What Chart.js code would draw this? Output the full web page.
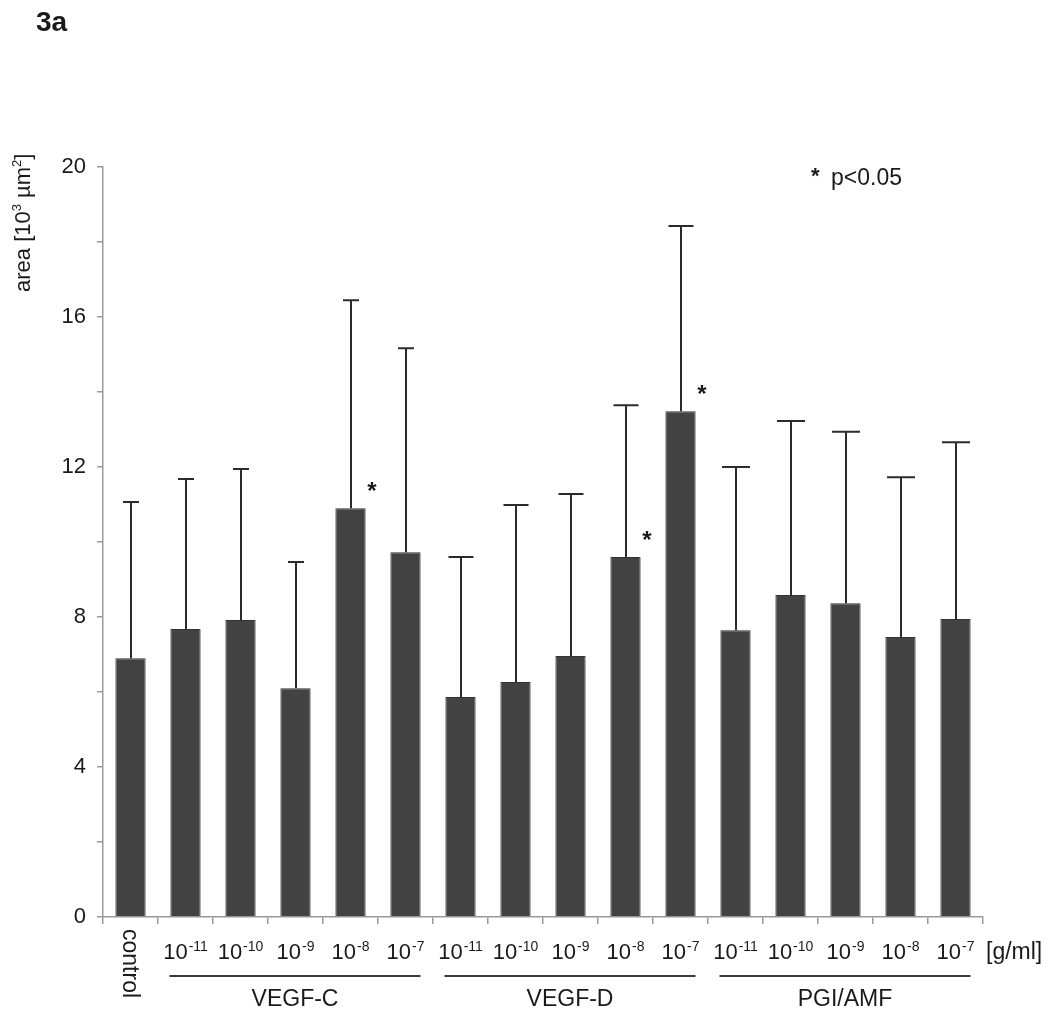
<!DOCTYPE html>
<html>
<head>
<meta charset="utf-8">
<script src="https://cdn.jsdelivr.net/npm/chart.js@4.4.1/dist/chart.umd.min.js"></script>
<style>
  html, body { margin: 0; padding: 0; background: #fff; }
  #wrap { width: 1050px; height: 1011px; }
</style>
</head>
<body>
<div id="wrap"><canvas id="areaChart" width="1050" height="1011"></canvas></div>
<script>
// Chart data
const groups = ['VEGF-C', 'VEGF-D', 'PGI/AMF'];
const categories = ['control',
  '10^-11', '10^-10', '10^-9', '10^-8', '10^-7',
  '10^-11', '10^-10', '10^-9', '10^-8', '10^-7',
  '10^-11', '10^-10', '10^-9', '10^-8', '10^-7'];
const means = [6.9, 7.68, 7.92, 6.1, 10.9, 9.73, 5.87, 6.27, 6.96, 9.6, 13.49, 7.65, 8.59, 8.37, 7.47, 7.95];
const sd = [4.17, 4.0, 4.03, 3.37, 5.55, 5.44, 3.73, 4.72, 4.32, 4.05, 4.94, 4.35, 4.64, 4.57, 4.26, 4.71];
const significant = [false, false, false, false, true, false, false, false, false, true, true, false, false, false, false, false];
const yTicks = [0, 4, 8, 12, 16, 20];

const FONT = "'Liberation Sans', Arial, Helvetica, sans-serif";
const INK = '#1a1a1a';

// cap width per bar (control + VEGF-C narrow, VEGF-D / PGI wider)
function capWidth(i) {
  if (i <= 5) return 16;
  if (i <= 10) return 25;
  return 28;
}

// Error bars, asterisks and the custom axis texts
const annotations = {
  id: 'annotations',
  afterDatasetsDraw(chart) {
    const ctx = chart.ctx;
    const meta = chart.getDatasetMeta(0);
    const y = chart.scales.y;
    ctx.save();
    ctx.strokeStyle = '#2b2b2b';
    ctx.lineWidth = 2;
    meta.data.forEach((bar, i) => {
      const x = Math.round(bar.x);
      const yTop = y.getPixelForValue(means[i] + sd[i]);
      const yMean = y.getPixelForValue(means[i]);
      ctx.beginPath();
      ctx.moveTo(x, yMean);
      ctx.lineTo(x, yTop);
      ctx.moveTo(x - capWidth(i) / 2, yTop);
      ctx.lineTo(x + capWidth(i) / 2, yTop);
      ctx.stroke();
      if (significant[i]) {
        ctx.fillStyle = INK;
        ctx.font = 'bold 24px ' + FONT;
        ctx.textAlign = 'center';
        ctx.textBaseline = 'middle';
        ctx.fillText('*', x + 21, yMean - 16);
      }
    });
    ctx.restore();
  },
  afterDraw(chart) {
    const ctx = chart.ctx;
    const xs = chart.scales.x;
    ctx.save();
    ctx.fillStyle = INK;

    // x tick labels
    categories.forEach((lab, i) => {
      const cx = xs.getPixelForValue(i);
      if (lab === 'control') {
        ctx.save();
        ctx.translate(cx - 1, 929);
        ctx.rotate(Math.PI / 2);
        ctx.font = '23px ' + FONT;
        ctx.textAlign = 'left';
        ctx.textBaseline = 'middle';
        ctx.fillText('control', 0, 0);
        ctx.restore();
        return;
      }
      const exp = lab.split('^')[1];
      ctx.font = '22px ' + FONT;
      const wBase = ctx.measureText('10').width;
      ctx.font = '14px ' + FONT;
      const wExp = ctx.measureText(exp).width;
      const left = cx - (wBase + wExp + 1) / 2;
      ctx.textAlign = 'left';
      ctx.textBaseline = 'alphabetic';
      ctx.font = '22px ' + FONT;
      ctx.fillText('10', left, 959);
      ctx.font = '14px ' + FONT;
      ctx.fillText(exp, left + wBase + 1, 951);
    });

    // unit
    ctx.font = '23px ' + FONT;
    ctx.textAlign = 'left';
    ctx.fillText('[g/ml]', 986, 959);

    // group underlines and names
    groups.forEach((g, k) => {
      const first = 1 + k * 5, last = first + 4;
      const x1 = xs.getPixelForValue(first) - 16;
      const x2 = xs.getPixelForValue(last) + 15;
      ctx.strokeStyle = '#3a3a3a';
      ctx.lineWidth = 2;
      ctx.beginPath();
      ctx.moveTo(x1, 976);
      ctx.lineTo(x2, 976);
      ctx.stroke();
      ctx.font = '23px ' + FONT;
      ctx.textAlign = 'center';
      ctx.fillText(g, (x1 + x2) / 2, 1006);
    });

    // y axis title with superscripts, rotated
    ctx.save();
    ctx.translate(30, 292);
    ctx.rotate(-Math.PI / 2);
    ctx.textAlign = 'left';
    ctx.textBaseline = 'alphabetic';
    const parts = [['area [10', 22, 0], ['3', 13, -9], [' \u00b5m', 22, 0], ['2', 13, -9], [']', 22, 0]];
    let px = 0;
    parts.forEach(([t, size, dy]) => {
      ctx.font = size + 'px ' + FONT;
      ctx.fillText(t, px, dy);
      px += ctx.measureText(t).width;
    });
    ctx.restore();

    // panel label and legend note
    ctx.font = 'bold 28px ' + FONT;
    ctx.textAlign = 'left';
    ctx.fillText('3a', 36, 31);
    ctx.font = 'bold 22px ' + FONT;
    ctx.fillText('*', 811, 183);
    ctx.font = '23px ' + FONT;
    ctx.fillText('p<0.05', 831, 185);
    ctx.restore();
  }
};

new Chart(document.getElementById('areaChart'), {
  type: 'bar',
  data: {
    labels: categories,
    datasets: [{
      data: means,
      backgroundColor: '#424242',
      borderColor: '#333333',
      borderWidth: 1,
      barPercentage: 0.55,
      categoryPercentage: 1.0
    }]
  },
  options: {
    responsive: false,
    animation: false,
    layout: { padding: { left: 0, top: 167, right: 67, bottom: 0 } },
    plugins: {
      legend: { display: false },
      tooltip: { enabled: false }
    },
    scales: {
      x: {
        afterFit: s => { s.height = 94; },
        grid: { display: true, drawOnChartArea: false, offset: true, tickLength: 7, color: '#9a9a9a', lineWidth: 1.5 },
        border: { display: true, color: '#9a9a9a', width: 1.5 },
        ticks: { display: false }
      },
      y: {
        min: 0,
        max: 20,
        afterFit: s => { s.width = 103; },
        afterBuildTicks: s => {
          const vals = [];
          for (let v = 0; v <= 20; v += 2) vals.push({ value: v });
          s.ticks = vals;
        },
        ticks: {
          callback: v => (yTicks.includes(v) ? String(v) : ''),
          font: { family: FONT, size: 22 },
          color: INK,
          padding: 11
        },
        grid: { display: true, drawOnChartArea: false, tickLength: 6, color: '#9a9a9a', lineWidth: 1.5 },
        border: { display: true, color: '#9a9a9a', width: 1.5 }
      }
    }
  },
  plugins: [annotations]
});
</script>
</body>
</html>
